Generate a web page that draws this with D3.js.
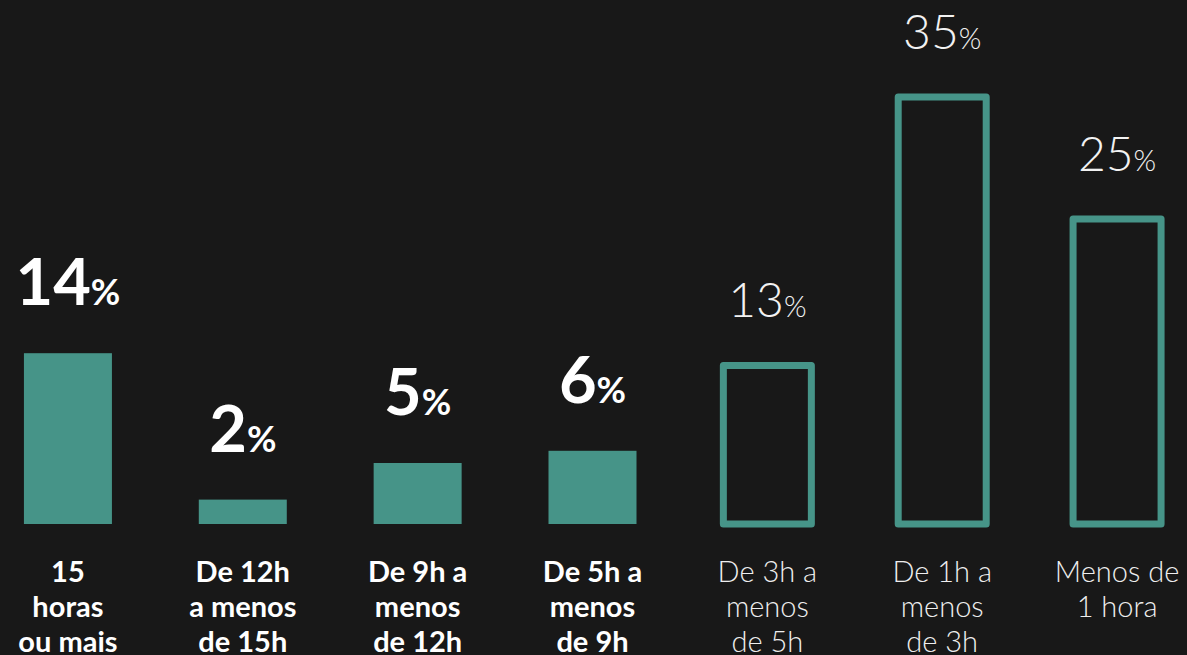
<!DOCTYPE html>
<html><head><meta charset="utf-8">
<script src="https://cdn.jsdelivr.net/npm/d3@7"></script>
<style>
html,body{margin:0;padding:0;background:#181818;}
svg{display:block;}
</style></head>
<body>
<svg id="chart" width="1187" height="655"></svg>
<script>
const categories = [
  ["15","horas","ou mais"],
  ["De 12h","a menos","de 15h"],
  ["De 9h a","menos","de 12h"],
  ["De 5h a","menos","de 9h"],
  ["De 3h a","menos","de 5h"],
  ["De 1h a","menos","de 3h"],
  ["Menos de","1 hora"]
];
const values = [14, 2, 5, 6, 13, 35, 25];
const highlighted = [true, true, true, true, false, false, false];

const W = 1187, H = 655;
const teal = "#469488";
const svg = d3.select("#chart");
svg.append("rect").attr("width", W).attr("height", H).attr("fill", "#181818");

const idx = d3.range(values.length);
const x = d3.scalePoint().domain(idx).range([-19.5, 1204.5]).padding(0.5);
const y = d3.scaleLinear().domain([0, 35]).range([524, 97]);
const bw = 88;

const g = svg.append("g");

idx.forEach(i => {
  const cx = x(i), v = values[i];
  if (highlighted[i]) {
    g.append("rect").attr("x", cx - bw/2).attr("y", y(v))
      .attr("width", bw).attr("height", y(0) - y(v)).attr("fill", teal);
  } else {
    g.append("rect").attr("x", cx - bw/2).attr("y", y(v))
      .attr("width", bw).attr("height", y(0) - y(v))
      .attr("fill", "none").attr("stroke", teal).attr("stroke-width", 7)
      .attr("stroke-linejoin", "round");
  }
  const t = g.append("text").attr("x", cx).attr("y", y(v) - 48)
    .attr("text-anchor", "middle").attr("fill", highlighted[i] ? "#ffffff" : "#f2f2f2")
    .attr("font-family", "Lato, sans-serif")
    .attr("font-weight", highlighted[i] ? 700 : 300);
  t.append("tspan").attr("font-size", highlighted[i] ? 65 : 48).text(v);
  t.append("tspan").attr("font-size", highlighted[i] ? 36 : 29).text("%");

  const c = g.append("text").attr("text-anchor", "middle")
    .attr("fill", highlighted[i] ? "#ffffff" : "#eeeeee")
    .attr("font-family", "Lato, sans-serif")
    .attr("font-weight", highlighted[i] ? 700 : 300)
    .attr("font-size", 29);
  categories[i].forEach((line, k) => {
    c.append("tspan").attr("x", cx).attr("y", 582 + k * 35).text(line);
  });
});
</script>
</body></html>
